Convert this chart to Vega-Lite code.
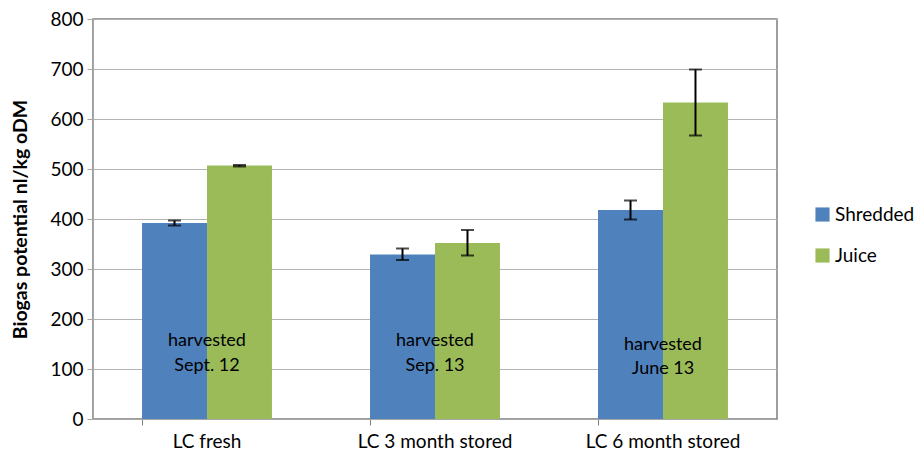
{
  "$schema": "https://vega.github.io/schema/vega-lite/v6.json",
  "width": 684,
  "height": 400,
  "autosize": "none",
  "padding": {"left": 93, "top": 19, "right": 142, "bottom": 34},
  "background": "white",
  "config": {
    "font": "Lato",
    "view": {"stroke": "#7f7f7f", "strokeWidth": 1.5},
    "axis": {"labelFont": "Lato", "titleFont": "Lato", "labelColor": "black", "titleColor": "black"}
  },
  "datasets": {
    "bars": [
      {"category": "LC fresh", "series": "Shredded", "value": 392, "lo": 387, "hi": 397},
      {"category": "LC fresh", "series": "Juice", "value": 507, "lo": 505, "hi": 508},
      {"category": "LC 3 month stored", "series": "Shredded", "value": 329, "lo": 318, "hi": 341},
      {"category": "LC 3 month stored", "series": "Juice", "value": 352, "lo": 327, "hi": 378},
      {"category": "LC 6 month stored", "series": "Shredded", "value": 418, "lo": 399, "hi": 437},
      {"category": "LC 6 month stored", "series": "Juice", "value": 633, "lo": 567, "hi": 699}
    ],
    "notes": [
      {"category": "LC fresh", "text": "harvested", "y": 156},
      {"category": "LC fresh", "text": "Sept. 12", "y": 107},
      {"category": "LC 3 month stored", "text": "harvested", "y": 156},
      {"category": "LC 3 month stored", "text": "Sep. 13", "y": 106},
      {"category": "LC 6 month stored", "text": "harvested", "y": 148},
      {"category": "LC 6 month stored", "text": "June 13", "y": 101}
    ]
  },
  "encoding": {
    "x": {
      "field": "category",
      "type": "nominal",
      "sort": ["LC fresh", "LC 3 month stored", "LC 6 month stored"],
      "scale": {"paddingInner": 0.43, "paddingOuter": 0.215},
      "axis": {
        "title": null,
        "labelAngle": 0,
        "labelFontSize": 19,
        "labelPadding": 7,
        "bandPosition": 0,
        "domainColor": "#a6a6a6",
        "tickColor": "#7f7f7f",
        "tickSize": 6,
        "grid": false
      }
    },
    "y": {
      "type": "quantitative",
      "scale": {"domain": [0, 800]},
      "axis": {
        "title": "Biogas potential nl/kg oDM",
        "titleFontSize": 19.5,
        "titleFontWeight": "bold",
        "titlePadding": 19,
        "labelFontSize": 19,
        "labelPadding": 4,
        "values": [0, 100, 200, 300, 400, 500, 600, 700, 800],
        "gridColor": "#b3b3b3",
        "gridWidth": 1.2,
        "domainColor": "#a6a6a6",
        "tickColor": "#a6a6a6",
        "tickSize": 6
      }
    }
  },
  "layer": [
    {
      "data": {"name": "bars"},
      "mark": {"type": "bar"},
      "encoding": {
        "xOffset": {"field": "series", "type": "nominal", "sort": ["Shredded", "Juice"], "scale": {"paddingInner": 0}},
        "y": {"field": "value"},
        "color": {
          "field": "series",
          "type": "nominal",
          "sort": ["Shredded", "Juice"],
          "scale": {"domain": ["Shredded", "Juice"], "range": ["#4f81bd", "#9bbb59"]},
          "legend": {
            "title": null,
            "orient": "none",
            "legendX": 720,
            "legendY": 186,
            "symbolType": "square",
            "symbolSize": 200,
            "symbolStrokeWidth": 0,
            "labelFontSize": 19,
            "rowPadding": 21,
            "labelOffset": 3
          }
        }
      }
    },
    {
      "data": {"name": "bars"},
      "mark": {"type": "rule", "color": "black", "strokeWidth": 2},
      "encoding": {
        "xOffset": {"field": "series", "type": "nominal", "sort": ["Shredded", "Juice"], "scale": {"paddingInner": 0}},
        "y": {"field": "lo"},
        "y2": {"field": "hi"}
      }
    },
    {
      "data": {"name": "bars"},
      "mark": {"type": "tick", "color": "black", "thickness": 2, "size": 13, "orient": "horizontal"},
      "encoding": {
        "xOffset": {"field": "series", "type": "nominal", "sort": ["Shredded", "Juice"], "scale": {"paddingInner": 0}},
        "y": {"field": "lo"}
      }
    },
    {
      "data": {"name": "bars"},
      "mark": {"type": "tick", "color": "black", "thickness": 2, "size": 13, "orient": "horizontal"},
      "encoding": {
        "xOffset": {"field": "series", "type": "nominal", "sort": ["Shredded", "Juice"], "scale": {"paddingInner": 0}},
        "y": {"field": "hi"}
      }
    },
    {
      "data": {"name": "notes"},
      "mark": {"type": "text", "fontSize": 18, "color": "black", "align": "center", "baseline": "middle"},
      "encoding": {
        "y": {"field": "y"},
        "text": {"field": "text"}
      }
    }
  ]
}
